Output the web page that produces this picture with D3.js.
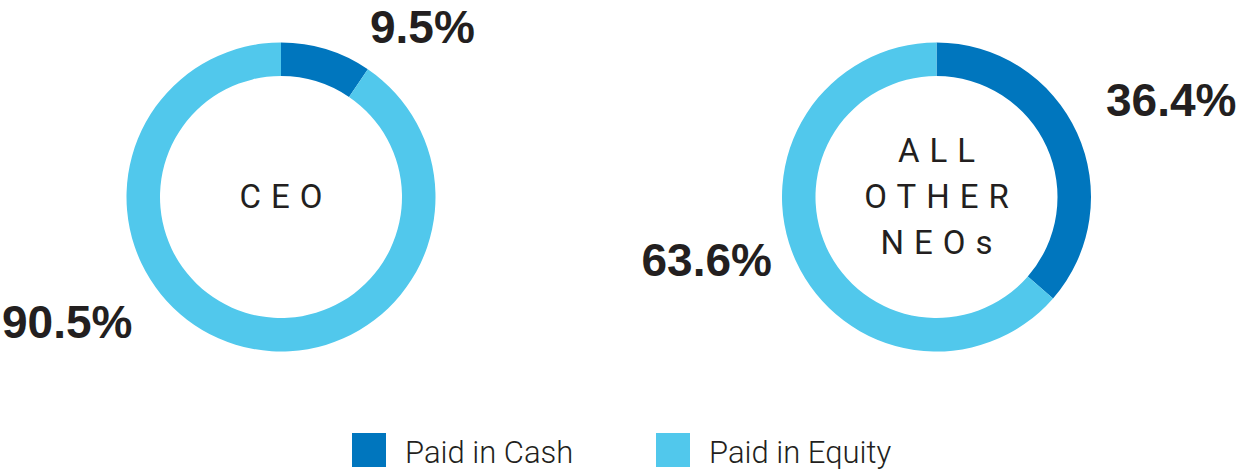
<!DOCTYPE html>
<html>
<head>
<meta charset="utf-8">
<script src="https://cdn.jsdelivr.net/npm/d3@7"></script>
<style>
  html, body { margin: 0; padding: 0; background: #ffffff; }
  svg { display: block; }
</style>
</head>
<body>
<svg id="chart" width="1241" height="470"></svg>
<script>
// ---- data ----
const groups = ["CEO", "ALL OTHER NEOs"];
const groupLines = [["CEO"], ["ALL", "OTHER", "NEOs"]];
const categories = ["Paid in Cash", "Paid in Equity"];
const cashValues = [9.5, 36.4];
const equityValues = [90.5, 63.6];

// ---- style / layout ----
const colors = ["#0076BE", "#51C8EC"];
const textColor = "#231F20";
const W = 1241, H = 470;
const centers = [[281, 197], [936.5, 197]];
const outerR = 154.5, innerR = 121;
// label anchor offsets (relative to donut centre, text-anchor start, baseline)
const labelOffsets = [
  [[89, -154], [-279, 141]],   // CEO: cash, equity
  [[169.5, -81], [-295, 79]]   // NEOs: cash, equity
];

const svg = d3.select("#chart");
const color = d3.scaleOrdinal().domain(categories).range(colors);
const pie = d3.pie().sort(null).value(d => d.value);
const arc = d3.arc().innerRadius(innerR).outerRadius(outerR);

groups.forEach((g, gi) => {
  const data = [
    { cat: categories[0], value: cashValues[gi] },
    { cat: categories[1], value: equityValues[gi] }
  ];
  const [cx, cy] = centers[gi];
  const gEl = svg.append("g").attr("transform", `translate(${cx},${cy})`);
  const arcs = pie(data);
  gEl.selectAll("path")
    .data(arcs)
    .join("path")
    .attr("d", arc)
    .attr("fill", d => color(d.data.cat));

  // value labels
  gEl.selectAll("text.val")
    .data(arcs)
    .join("text")
    .attr("class", "val")
    .attr("x", (d, i) => labelOffsets[gi][i][0])
    .attr("y", (d, i) => labelOffsets[gi][i][1])
    .attr("font-family", "'Liberation Sans', Arial, sans-serif")
    .attr("font-weight", "bold")
    .attr("font-size", 46)
    .attr("fill", textColor)
    .text(d => d3.format(".1f")(d.data.value) + "%");

  // centre label
  const lines = groupLines[gi];
  const lineH = 46;
  const ls = 10;
  const baseY = 11 - (lines.length - 1) * lineH / 2;
  gEl.selectAll("text.ctr")
    .data(lines)
    .join("text")
    .attr("class", "ctr")
    .attr("x", ls / 2)
    .attr("y", (d, i) => baseY + i * lineH)
    .attr("text-anchor", "middle")
    .attr("font-family", "Roboto, 'Noto Sans', sans-serif")
    .attr("font-weight", 400)
    .attr("font-size", 33)
    .attr("letter-spacing", ls)
    .attr("fill", textColor)
    .text(d => d);
});

// legend
const legendX = [352, 656];
const legend = svg.append("g");
const items = legend.selectAll("g")
  .data(categories)
  .join("g")
  .attr("transform", (d, i) => `translate(${legendX[i]},433)`);
items.append("rect")
  .attr("width", 34).attr("height", 34)
  .attr("fill", d => color(d));
items.append("text")
  .attr("x", 53).attr("y", 30)
  .attr("font-family", "Roboto, 'Noto Sans', sans-serif")
  .attr("font-weight", 300)
  .attr("font-size", 31)
  .attr("fill", textColor)
  .text(d => d);
</script>
</body>
</html>
